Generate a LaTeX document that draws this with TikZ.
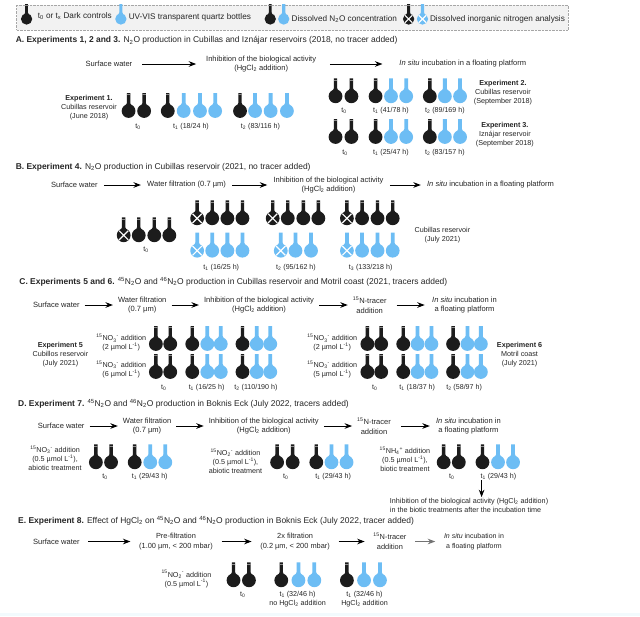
\documentclass[tikz,border=0pt]{standalone}
\usepackage{fontspec}
\setmainfont{Liberation Sans}
\usetikzlibrary{arrows.meta,
                positioning
                }
\definecolor{bdark}{HTML}{1C1C1C}
\definecolor{bblue}{HTML}{6DBDF4}
\definecolor{ink}{HTML}{262626}

\begin{document}
\begin{tikzpicture}[
    x=1.2245pt, y=-1pt,
    every node/.style = {text=ink},
    txt/.style = {align=center, inner sep=0pt, font=\fontsize{7.2}{9}\selectfont},
    lab/.style = {inner sep=0pt, font=\fontsize{7.1}{9}\selectfont},
    sect/.style = {anchor=west, inner sep=0pt, font=\fontsize{8.45}{10}\selectfont},
    leg/.style = {anchor=west, inner sep=0pt, font=\fontsize{8.2}{10}\selectfont},
    step node/.style = {align=center, inner ysep=0pt, font=\fontsize{7.55}{9.6}\selectfont},
    small step/.style = {font=\fontsize{7.4}{9.6}\selectfont},
    flow/.style = {-Stealth, line width=1pt, black},
    dkbot/.pic = {\fill[bdark] (0,0) circle (6.9pt);
                  \fill[bdark] (-1.7pt,18pt) -- (1.7pt,18pt) -- (1.7pt,8pt) -- (3pt,5pt)
                               -- (-3pt,5pt) -- (-1.7pt,8pt) -- cycle;
                  \fill[black!45] (-1.7pt,16pt) rectangle (1.7pt,16.6pt);},
    blbot/.pic = {\fill[bblue] (0,0) circle (6.9pt);
                  \fill[bblue] (-1.9pt,18pt) -- (1.9pt,18pt) -- (1.9pt,8pt) -- (3.2pt,5pt)
                               -- (-3.2pt,5pt) -- (-1.9pt,8pt) -- cycle;},
    cross/.pic = {\draw[white, line width=1.2pt] (-4.6pt,-4.6pt) -- (4.6pt,4.6pt)
                                                 (-4.6pt,4.6pt) -- (4.6pt,-4.6pt);}
                    ]
\useasboundingbox (0,0) rectangle (522.65,616);
\fill[white] (0,0) rectangle (522.65,616);
\fill[black!5] (13.5,5) rectangle (464,30);
\draw[black!35, densely dotted] (13.5,5) rectangle (464,30);
\fill[black!10!cyan!5!white] (0,613) rectangle (522.65,616);

% legend
\pic[scale=.82] at (21.7,19) {dkbot};
\pic[scale=.82] at (98.7,19) {blbot};
\pic[scale=.82] at (220.7,19) {dkbot};
\pic[scale=.82] at (231.7,19) {blbot};
\pic[scale=.82] at (333.7,19) {dkbot};
\pic[scale=.82] at (333.7,19) {cross};
\pic[scale=.82] at (345,19) {blbot};
\pic[scale=.82] at (345,19) {cross};
\node (k1) [leg] at (30.7,16) {t\textsubscript{0} or t\textsubscript{x} Dark controls};
\node (k2) [leg] at (105,17) {UV-VIS transparent quartz bottles};
\node (k3) [leg] at (238,19) {Dissolved N\textsubscript{2}O concentration};
\node (k4) [leg] at (351,19) {Dissolved inorganic nitrogen analysis};

% A
\node (ta) [sect] at (12.7,40.7) {\textbf{A. Experiments 1, 2 and 3.} N\textsubscript{2}O production in Cubillas and Iznájar reservoirs (2018, no tracer added)};
    \begin{scope}[every node/.append style={step node, inner xsep=9.8pt}]
\node (a1) at (89,64) {Surface water};
\node (a2) [right=53.9pt of a1] {Inhibition of the biological activity\\ (HgCl\textsubscript{2} addition)};
\node (a3) [right=63.3pt of a2] {\textit{In situ} incubation in a floating platform};
    \end{scope}
\draw[flow] (a1) -- (a2);
\draw[flow, shorten <=3.7pt, shorten >=7pt] (a2) -- (a3);

\node (a4) [txt] at (72.7,107.3) {\textbf{Experiment 1.}\\ Cubillas reservoir\\ (June 2018)};
\foreach \x in {105,117.7,137,196} \pic at (\x,111) {dkbot};
\foreach \x in {150,163.3,175.7,208.3,221,234.3} \pic at (\x,111) {blbot};
\node (a5) [lab] at (112.7,126.7) {t\textsubscript{0}};
\node (a6) [lab] at (156,126.7) {t\textsubscript{1} (18/24 h)};
\node (a7) [lab] at (212.7,126.7) {t\textsubscript{2} (83/116 h)};

\foreach \y in {96.3,137} {
  \foreach \x in {274,287,306.7,351} \pic at (\x,\y) {dkbot};
  \foreach \x in {319.3,331.7,363.3,375.7} \pic at (\x,\y) {blbot};
}
\node (a8) [lab] at (281,110.7) {t\textsubscript{0}};
\node (a9) [lab] at (319.3,110.7) {t\textsubscript{1} (41/78 h)};
\node (a10) [lab] at (363.3,110.7) {t\textsubscript{2} (89/169 h)};
\node (a11) [txt] at (410.7,92.7) {\textbf{Experiment 2.}\\ Cubillas reservoir\\ (September 2018)};
\node (a12) [lab] at (281.7,152.7) {t\textsubscript{0}};
\node (a13) [lab] at (319.3,152.7) {t\textsubscript{1} (25/47 h)};
\node (a14) [lab] at (363.3,152.7) {t\textsubscript{2} (83/157 h)};
\node (a15) [txt] at (412.3,134.3) {\textbf{Experiment 3.}\\ Iznájar reservoir\\ (September 2018)};

% B
\node (tb) [sect] at (12.7,167) {\textbf{B. Experiment 4.} N\textsubscript{2}O production in Cubillas reservoir (2021, no tracer added)};
    \begin{scope}[every node/.append style={step node, inner xsep=6.1pt}]
\node (b1) at (60.7,185) {Surface water};
\node (b2) [right=37pt of b1] {Water filtration (0.7 µm)};
\node (b3) [right=35pt of b2] {Inhibition of the biological activity\\ (HgCl\textsubscript{2} addition)};
\node (b4) [right=31pt of b3] {\textit{In situ} incubation in a floating platform};
    \end{scope}
\draw[flow] (b1) -- (b2);
\draw[flow] (b2) -- (b3);
\draw[flow] (b3) -- (b4);

\foreach \x in {101,113.3,126,138.3} \pic at (\x,235.3) {dkbot};
\pic at (101,235.3) {cross};
\foreach \x in {161,173.3,185.7,198,222.7,235,247.7,260,283.3,295.7,308.3,320.7} \pic at (\x,218.3) {dkbot};
\foreach \x in {161,222.7,283.3} \pic at (\x,218.3) {cross};
\foreach \x in {161,173.3,185.7,198,229.3,241.3,254,283.3,295.7,308.3,320.7} \pic at (\x,250.7) {blbot};
\foreach \x in {161,229.3,283.3} \pic at (\x,250.7) {cross};
\node (b5) [lab] at (119.3,250) {t\textsubscript{0}};
\node (b6) [lab] at (180.7,267.7) {t\textsubscript{1} (16/25 h)};
\node (b7) [lab] at (241.7,267.7) {t\textsubscript{2} (95/162 h)};
\node (b8) [lab] at (302.7,267.7) {t\textsubscript{3} (133/218 h)};
\node (b9) [txt] at (361.3,235.3) {Cubillas reservoir\\ (July 2021)};

% C
\node (tc) [sect] at (15.7,282) {\textbf{C. Experiments 5 and 6.} \textsuperscript{45}N\textsubscript{2}O and \textsuperscript{46}N\textsubscript{2}O production in Cubillas reservoir and Motril coast (2021, tracers added)};
    \begin{scope}[every node/.append style={step node, inner xsep=4.9pt}]
\node (c1) at (46,305) {Surface water};
\node (c2) [right=28.2pt of c1] {Water filtration\\ (0.7 µm)};
\node (c3) [right=27.4pt of c2] {Inhibition of the biological activity\\ (HgCl\textsubscript{2} addition)};
\node (c4) [right=28.7pt of c3] {\textsuperscript{15}N-tracer\\ addition};
\node (c5) [right=35.5pt of c4] {\textit{In situ} incubation in\\ a floating platform};
    \end{scope}
\draw[flow] (c1) -- (c2);
\draw[flow] (c2) -- (c3);
\draw[flow] (c3) -- (c4);
\draw[flow, shorten <=4.9pt, shorten >=2.4pt] (c4) -- (c5);

\foreach \y in {344,372} {
  \foreach \x in {127.3,139,157,198,300,311.3,329.3,370} \pic at (\x,\y) {dkbot};
  \foreach \x in {169.3,180.3,209.7,220.7,341,352.3,381.7,392.7} \pic at (\x,\y) {blbot};
}
\node (c6) [txt] at (99,342.9) {\textsuperscript{15}NO\textsubscript{3}\textsuperscript{-} addition\\ (2 µmol L\textsuperscript{-1})};
\node (c7) [txt] at (99,369.5) {\textsuperscript{15}NO\textsubscript{3}\textsuperscript{-} addition\\ (6 µmol L\textsuperscript{-1})};
\node (c8) [txt] at (271.3,342.9) {\textsuperscript{15}NO\textsubscript{3}\textsuperscript{-} addition\\ (2 µmol L\textsuperscript{-1})};
\node (c9) [txt] at (271.3,369.5) {\textsuperscript{15}NO\textsubscript{3}\textsuperscript{-} addition\\ (5 µmol L\textsuperscript{-1})};
\node (c10) [txt] at (49.3,354.3) {\textbf{Experiment 5}\\ Cubillos reservoir\\ (July 2021)};
\node (c11) [txt] at (424.3,355) {\textbf{Experiment 6}\\ Motril coast\\ (July 2021)};
\node (c12) [lab] at (133.7,387.3) {t\textsubscript{0}};
\node (c13) [lab] at (168.7,387.3) {t\textsubscript{1} (16/25 h)};
\node (c14) [lab] at (209,387.3) {t\textsubscript{2} (110/190 h)};
\node (c15) [lab] at (306,387.3) {t\textsubscript{0}};
\node (c16) [lab] at (340.7,387.3) {t\textsubscript{1} (18/37 h)};
\node (c17) [lab] at (379,387.3) {t\textsubscript{2} (58/97 h)};

% D
\node (td) [sect] at (14.7,403.7) {\textbf{D. Experiment 7.} \textsuperscript{45}N\textsubscript{2}O and \textsuperscript{46}N\textsubscript{2}O production in Boknis Eck (July 2022, tracers added)};
    \begin{scope}[every node/.append style={step node, inner xsep=4.9pt}]
\node (d1) at (50,426) {Surface water};
\node (d2) [right=28.2pt of d1] {Water filtration\\ (0.7 µm)};
\node (d3) [right=27.3pt of d2] {Inhibition of the biological activity\\ (HgCl\textsubscript{2} addition)};
\node (d4) [right=28.2pt of d3] {\textsuperscript{15}N-tracer\\ addition};
\node (d5) [right=35.1pt of d4] {\textit{In situ} incubation in\\ a floating platform};
    \end{scope}
\draw[flow] (d1) -- (d2);
\draw[flow] (d2) -- (d3);
\draw[flow] (d3) -- (d4);
\draw[flow, shorten <=4.9pt, shorten >=1.2pt] (d4) -- (d5);

\foreach \x in {78.3,90.7,110,226.3,239,258.3,362.3,374.7,394} \pic at (\x,462.3) {dkbot};
\foreach \x in {122.7,135,270.7,283,406.7,419} \pic at (\x,462.3) {blbot};
\node (d6) [txt] at (45,458.3) {\textsuperscript{15}NO\textsubscript{3}\textsuperscript{-} addition\\ (0.5 µmol L\textsuperscript{-1}),\\ abiotic treatment};
\node (d7) [txt] at (192.3,461) {\textsuperscript{15}NO\textsubscript{2}\textsuperscript{-} addition\\ (0.5 µmol L\textsuperscript{-1}),\\ abiotic treatment};
\node (d8) [txt] at (330.7,459) {\textsuperscript{15}NH\textsubscript{4}\textsuperscript{+} addition\\ (0.5 µmol L\textsuperscript{-1}),\\ biotic treatment};
\node (d9) [lab] at (85.7,476.3) {t\textsubscript{0}};
\node (d10) [lab] at (122.3,476.3) {t\textsubscript{1} (29/43 h)};
\node (d11) [lab] at (233.3,476.3) {t\textsubscript{0}};
\node (d12) [lab] at (272,476.3) {t\textsubscript{1} (29/43 h)};
\node (d13) [lab] at (369,476.3) {t\textsubscript{0}};
\node (d14) [lab] at (407,476.3) {t\textsubscript{1} (29/43 h)};
\coordinate (d15) at (393.3,480);
\node (d16) [txt, anchor=west, align=left, inner ysep=1pt] at (318.3,505.5) {Inhibition of the biological activity (HgCl\textsubscript{2} addition)\\ in the biotic treatments after the incubation time};
\draw[flow] (d15) -- (d15 |- d16.north);

% E
\node (te) [sect] at (14.7,521) {\textbf{E. Experiment 8.} Effect of HgCl\textsubscript{2} on \textsuperscript{45}N\textsubscript{2}O and \textsuperscript{46}N\textsubscript{2}O production in Boknis Eck (July 2022, tracer added)};
    \begin{scope}[every node/.append style={step node, inner xsep=8.6pt}]
\node (e1) at (46,541.5) {Surface water};
\node (e2) [small step, right=42pt of e1] {Pre-filtration\\ (1.00 µm, < 200 mbar)};
\node (e3) [small step, right=30pt of e2] {2x filtration\\ (0.2 µm, < 200 mbar)};
\node (e4) [small step, right=26pt of e3] {\textsuperscript{15}N-tracer\\ addition};
\node (e5) [small step, font=\fontsize{7}{9.6}\selectfont, right=20pt of e4] {\textit{In situ} incubation in\\ a floating platform};
    \end{scope}
\draw[flow] (e1) -- (e2);
\draw[flow] (e2) -- (e3);
\draw[flow] (e3) -- (e4);
\draw[flow, black!55] (e4) -- (e5);

\foreach \x in {190.7,203.3,229.7,283.3} \pic at (\x,580.3) {dkbot};
\foreach \x in {243.7,256.7,297.3,310.3} \pic at (\x,580.3) {blbot};
\node (e6) [txt] at (152.3,579) {\textsuperscript{15}NO\textsubscript{2}\textsuperscript{-} addition\\ (0.5 µmol L\textsuperscript{-1})};
\node (e7) [lab] at (198.3,595) {t\textsubscript{0}};
\node (e8) [txt] at (243,599) {t\textsubscript{1} (32/46 h)\\ no HgCl\textsubscript{2} addition};
\node (e9) [txt] at (297.7,599) {t\textsubscript{1} (32/46 h)\\ HgCl\textsubscript{2} addition};
    \end{tikzpicture}
\end{document}
